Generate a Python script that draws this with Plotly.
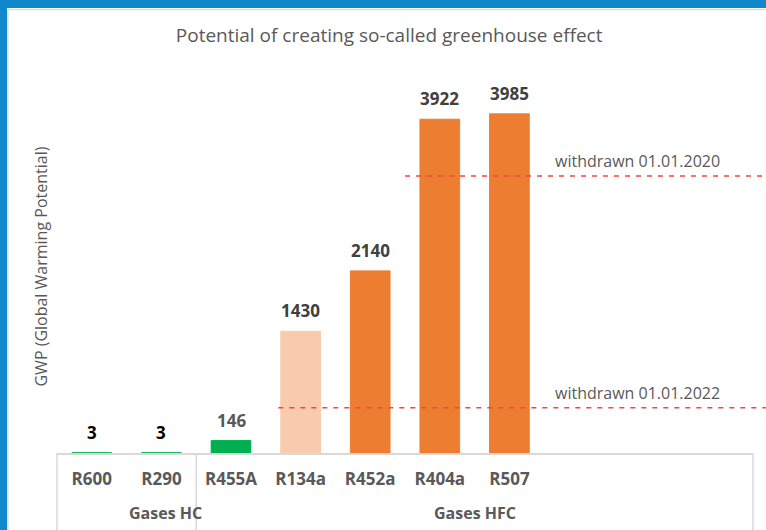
import plotly.graph_objects as go

# ---- data ----
gases = ["R600", "R290", "R455A", "R134a", "R452a", "R404a", "R507"]
gwp = [3, 3, 146, 1430, 2140, 3922, 3985]
bar_colors = ["#00B050", "#00B050", "#00B050", "#F8CBAD", "#ED7D31", "#ED7D31", "#ED7D31"]
label_colors = ["#000000", "#000000", "#595959", "#404040", "#404040", "#404040", "#404040"]
groups = ["Gases HC", "Gases HFC"]
group_slots = [(0, 2), (2, 10)]          # category slots covered by each group
n_slots = 10
limit_values = [3255, 532]
limit_labels = ["withdrawn 01.01.2020", "withdrawn 01.01.2022"]
limit_from = [4.5, 2.68]                  # category position where each line starts

FONT = "Open Sans"
GRAY = "#595959"
BLUE = "#1188CB"
xs = list(range(len(gases)))

fig = go.Figure()
fig.add_trace(go.Bar(
    x=xs, y=gwp, width=0.57,
    marker=dict(color=bar_colors, line=dict(color=bar_colors, width=1)),
    hoverinfo="skip",
))

# value labels
for x, v, c in zip(xs, gwp, label_colors):
    fig.add_annotation(x=x, y=v, xref="x", yref="y", text=f"<b>{v}</b>",
                       showarrow=False, yanchor="bottom", yshift=7,
                       font=dict(family=FONT, size=17, color=c))

# white card inside the blue frame (paper background is blue)
shapes = [
    dict(type="rect", xref="paper", yref="paper", x0=-0.0718, x1=1.03, y0=-0.22, y1=1.193,
         fillcolor="white", line=dict(width=0), layer="below"),
    dict(type="line", xref="paper", yref="paper", x0=-0.0705, x1=1.03, y0=1.189, y1=1.189,
         line=dict(color="#DDDDDD", width=1.5), layer="below"),
    dict(type="line", xref="paper", yref="paper", x0=-0.0705, x1=-0.0705, y0=-0.22, y1=1.189,
         line=dict(color="#DDDDDD", width=1.5), layer="below"),
]

# limit lines
for val, start, lab in zip(limit_values, limit_from, limit_labels):
    shapes.append(dict(type="line", xref="paper", yref="y",
                       x0=(start + 0.5) / n_slots, x1=1.03, y0=val, y1=val,
                       line=dict(color="#F24646", width=1.6, dash="5px,6px")))
    fig.add_annotation(x=0.7126, xref="paper", y=val, yref="y", text=lab,
                       showarrow=False, xanchor="left", yanchor="bottom", yshift=2,
                       font=dict(family=FONT, size=16, color=GRAY))

# group dividers and labels
bounds = sorted({b for s in group_slots for b in s})
for b in bounds:
    shapes.append(dict(type="line", xref="paper", yref="paper",
                       x0=b / n_slots, x1=b / n_slots, y0=0, y1=-0.21,
                       line=dict(color="#D9D9D9", width=1.5)))
for g, (a, b) in zip(groups, group_slots):
    fig.add_annotation(x=(a + b) / 2 / n_slots, xref="paper", y=-0.161, yref="paper",
                       text=f"<b>{g}</b>", showarrow=False, yanchor="middle",
                       font=dict(family=FONT, size=16, color=GRAY))

# y-axis title
fig.add_annotation(x=-0.0244, xref="paper", y=0.5, yref="paper", textangle=-90,
                   text="GWP (Global Warming Potential)", showarrow=False,
                   xanchor="center", yanchor="middle",
                   font=dict(family=FONT, size=16, color=GRAY))

fig.update_layout(
    width=766, height=530,
    margin=dict(l=57, r=13, t=80, b=77, autoexpand=False),
    paper_bgcolor=BLUE, plot_bgcolor="white",
    showlegend=False,
    shapes=shapes,
    title=dict(text="Potential of creating so-called greenhouse effect",
               x=0.508, xanchor="center", y=0.934, yanchor="middle",
               font=dict(family=FONT, size=19, color=GRAY)),
    xaxis=dict(range=[-0.5, n_slots - 0.5], tickvals=xs,
               ticktext=[f"<b>{g}</b>" for g in gases],
               tickfont=dict(family=FONT, size=17, color=GRAY),
               ticks="", ticklabelstandoff=10, showgrid=False, zeroline=False,
               automargin=False,
               showline=True, linecolor="#D9D9D9", linewidth=1.5, fixedrange=True),
    yaxis=dict(range=[0, 4383], showticklabels=False, showgrid=False, zeroline=False,
               ticks="", showline=False, automargin=False, fixedrange=True),
)

fig.write_html("out.html", config={"displayModeBar": False},
               post_script="document.body.style.margin='0';document.body.style.overflow='hidden';")
